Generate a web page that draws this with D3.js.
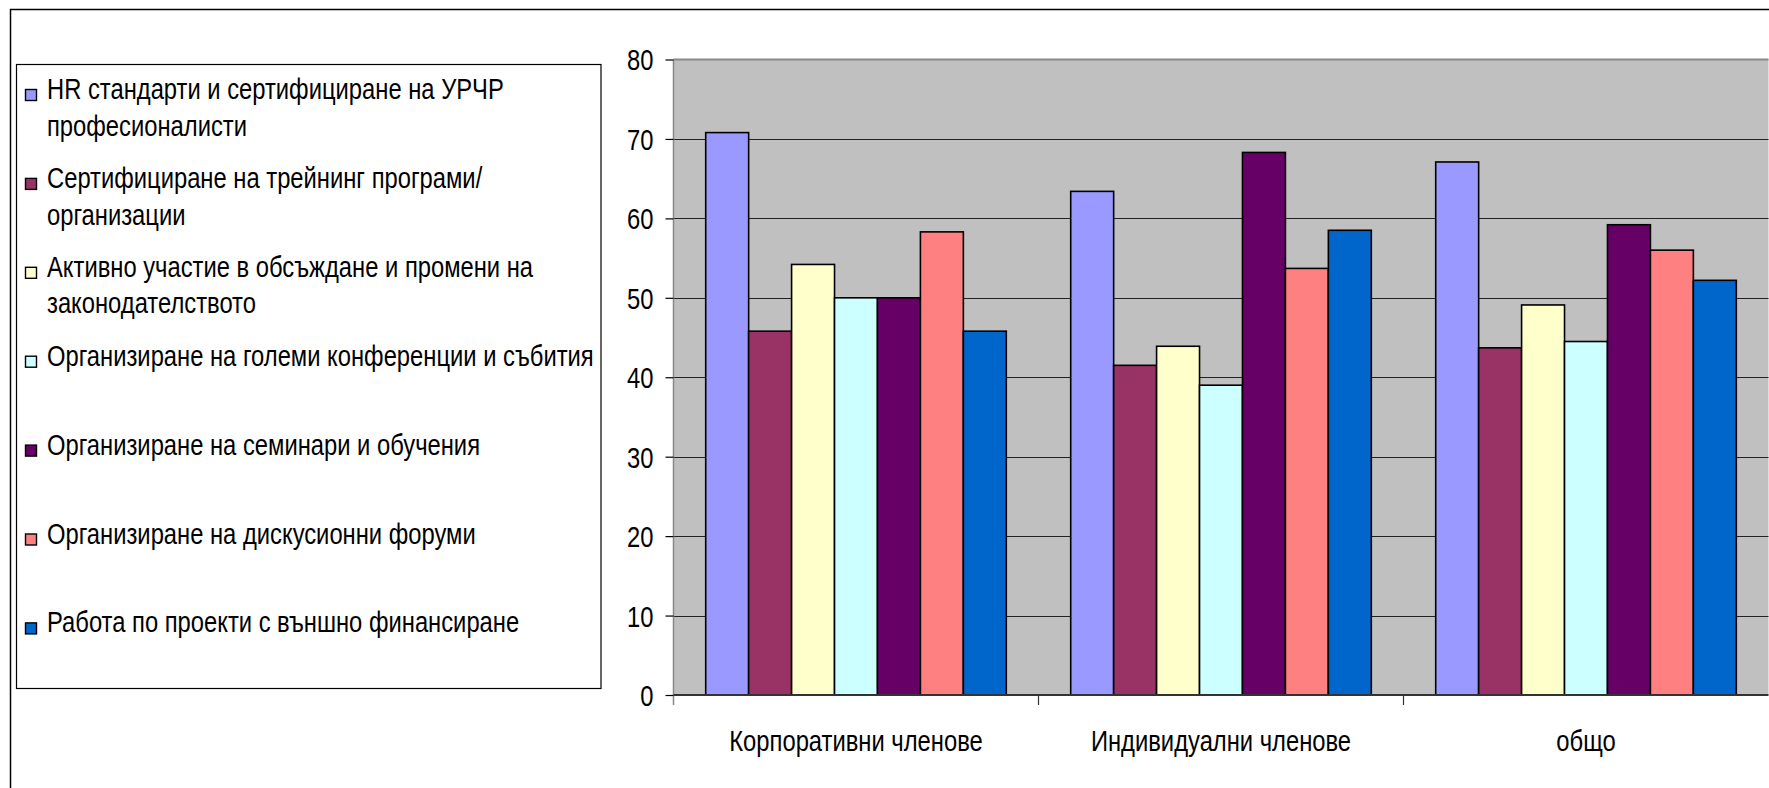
<!DOCTYPE html>
<html>
<head>
<meta charset="utf-8">
<script src="https://cdn.jsdelivr.net/npm/d3@7"></script>
<style>
  html, body { margin: 0; padding: 0; background: #fff; }
  svg { display: block; }
  text { font-family: "Liberation Sans", Arial, sans-serif; fill: #000; }
</style>
</head>
<body>
<svg id="chart" width="1769" height="788"></svg>
<script>
const categories = ["Корпоративни членове", "Индивидуални членове", "общо"];
const seriesNames = [
  "HR стандарти и сертифициране на УРЧР професионалисти",
  "Сертифициране на трейнинг програми/ организации",
  "Активно участие в обсъждане и промени на законодателството",
  "Организиране на големи конференции и събития",
  "Организиране на семинари и обучения",
  "Организиране на дискусионни форуми",
  "Работа по проекти с външно финансиране"
];
const legendLines = [
  ["HR стандарти и сертифициране на УРЧР", "професионалисти"],
  ["Сертифициране на трейнинг програми/", "организации"],
  ["Активно участие в обсъждане и промени на", "законодателството"],
  ["Организиране на големи конференции и събития"],
  ["Организиране на семинари и обучения"],
  ["Организиране на дискусионни форуми"],
  ["Работа по проекти с външно финансиране"]
];
const seriesColors = ["#9999FF", "#993366", "#FFFFCC", "#CCFFFF", "#660066", "#FF8080", "#0066CC"];
// values per series: [Корпоративни, Индивидуални, общо]
const hrStandards   = [70.8, 63.4, 67.1];
const certTraining  = [45.8, 41.5, 43.7];
const legislation   = [54.2, 43.9, 49.1];
const conferences   = [50.0, 39.0, 44.5];
const seminars      = [50.0, 68.3, 59.2];
const forums        = [58.3, 53.7, 56.0];
const projects      = [45.8, 58.5, 52.2];
const seriesValues = [hrStandards, certTraining, legislation, conferences, seminars, forums, projects];
const yTicks = [0, 10, 20, 30, 40, 50, 60, 70, 80];

const svg = d3.select("#chart");
const W = 1769, H = 788;
const plot = { left: 673.5, right: 1768.5, top: 59.5, bottom: 695 };
const SX = 0.82; // horizontal condensation of the reference font

// outer chart border (extends past right/bottom edge)
svg.append("rect").attr("x", 10.5).attr("y", 9.5).attr("width", W + 20).attr("height", H + 20)
  .attr("fill", "#fff").attr("stroke", "#000").attr("stroke-width", 1.5);

const x0 = d3.scaleBand().domain(categories).range([plot.left, plot.right]).paddingInner(0).paddingOuter(0);
const x1 = d3.scaleBand().domain(d3.range(seriesNames.length)).range([0, x0.bandwidth()]).paddingInner(0).paddingOuter(0.75);
const y = d3.scaleLinear().domain([0, 80]).range([plot.bottom, plot.top]);

// plot background
svg.append("rect").attr("x", plot.left).attr("y", plot.top)
  .attr("width", plot.right - plot.left).attr("height", plot.bottom - plot.top).attr("fill", "#C0C0C0");

// gridlines
svg.append("g").selectAll("line").data(yTicks.filter(t => t > 0 && t < 80)).join("line")
  .attr("x1", plot.left).attr("x2", plot.right)
  .attr("y1", d => Math.round(y(d)) + 0.5).attr("y2", d => Math.round(y(d)) + 0.5)
  .attr("stroke", "#222").attr("stroke-width", 1.2);
// top border of plot
svg.append("line").attr("x1", plot.left).attr("x2", plot.right).attr("y1", y(80)).attr("y2", y(80))
  .attr("stroke", "#888").attr("stroke-width", 2);

// bars
const groups = svg.append("g").selectAll("g").data(categories).join("g")
  .attr("transform", d => `translate(${x0(d)},0)`);
groups.selectAll("rect").data((c, ci) => seriesValues.map((vals, si) => ({ si, v: vals[ci] }))).join("rect")
  .attr("x", d => x1(d.si)).attr("width", x1.bandwidth())
  .attr("y", d => y(d.v)).attr("height", d => y(0) - y(d.v))
  .attr("fill", d => seriesColors[d.si]).attr("stroke", "#000").attr("stroke-width", 1.6);

// y axis
const yAxis = d3.axisLeft(y).tickValues(yTicks).tickSize(8).tickPadding(12).tickFormat(d3.format("d"));
const gy = svg.append("g").attr("transform", `translate(${plot.left},0)`).call(yAxis);
gy.select(".domain").attr("stroke", "#888").attr("stroke-width", 1.5)
  .attr("d", `M0,${plot.top}V${plot.bottom + 10}`);
gy.selectAll(".tick line").attr("stroke", "#000").attr("stroke-width", 1.2);
gy.selectAll(".tick text").attr("font-size", 29).attr("font-family", "Liberation Sans, Arial, sans-serif")
  .attr("fill", "#000").attr("dy", "0.36em")
  .attr("transform", function() { const xx = +d3.select(this).attr("x"); return `translate(${xx*(1-SX)},0) scale(${SX},1)`; });

// x axis (zero line and category divider ticks)
svg.append("line").attr("x1", plot.left).attr("x2", plot.right).attr("y1", y(0)).attr("y2", y(0))
  .attr("stroke", "#333").attr("stroke-width", 2);
svg.append("g").selectAll("line").data(categories.slice(1)).join("line")
  .attr("x1", d => x0(d)).attr("x2", d => x0(d)).attr("y1", y(0)).attr("y2", y(0) + 10)
  .attr("stroke", "#333").attr("stroke-width", 1.2);
svg.append("g").selectAll("text").data(categories).join("text")
  .attr("transform", d => `translate(${x0(d) + x0.bandwidth() / 2},751) scale(${SX},1)`)
  .attr("text-anchor", "middle").attr("font-size", 29).text(d => d);

// legend
const legend = svg.append("g");
legend.append("rect").attr("x", 16.5).attr("y", 64.5).attr("width", 584.5).attr("height", 624)
  .attr("fill", "#fff").attr("stroke", "#000").attr("stroke-width", 1.2);
const item = legend.selectAll("g.item").data(legendLines).join("g").attr("class", "item")
  .attr("transform", (d, i) => `translate(0,${99 + i * 88.9})`);
item.append("rect").attr("x", 25.5).attr("y", -9.5).attr("width", 11).attr("height", 11)
  .attr("fill", (d, i) => seriesColors[i]).attr("stroke", "#000").attr("stroke-width", 1.4);
item.each(function(lines) {
  const g = d3.select(this);
  lines.forEach((ln, k) => {
    g.append("text").attr("transform", `translate(47,${k * 36.6}) scale(${SX},1)`)
      .attr("font-size", 29).text(ln);
  });
});
</script>
</body>
</html>
